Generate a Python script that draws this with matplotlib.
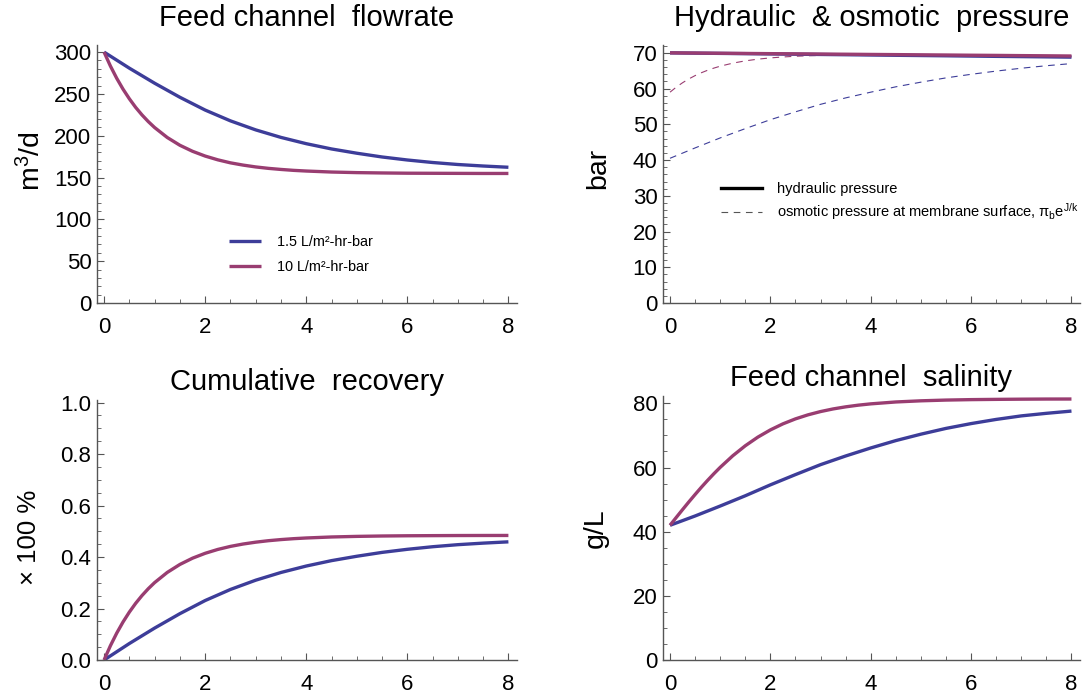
import matplotlib
matplotlib.use("Agg")
import matplotlib.pyplot as plt
from matplotlib.ticker import MultipleLocator, FormatStrFormatter

plt.rcParams['font.family'] = ['Liberation Sans', 'DejaVu Sans']
plt.rcParams['mathtext.fontset'] = 'custom'
plt.rcParams['mathtext.rm'] = 'Liberation Sans'
plt.rcParams['mathtext.it'] = 'Liberation Sans'

# ---------------- data ----------------
labels = ["1.5 L/m\u00b2-hr-bar", "10 L/m\u00b2-hr-bar"]

x_blue = [0, 0.5, 1, 1.5, 2, 2.5, 3, 3.5, 4, 4.5, 5, 5.5, 6, 6.5, 7, 7.5, 8]
x_red = [0, 0.125, 0.25, 0.375, 0.5, 0.625, 0.75, 0.875, 1, 1.25, 1.5, 1.75, 2,
         2.25, 2.5, 2.75, 3, 3.25, 3.5, 3.75, 4, 4.5, 5, 5.5, 6, 6.5, 7, 7.5, 8]

flow_blue = [300, 280.8, 262.8, 246, 230.7, 217.8, 207, 198, 190.5, 184.2, 179.1,
             174.6, 171, 168, 165.6, 163.8, 162.3]
flow_red = [300, 283.4, 268.7, 255.7, 244.2, 233.9, 224.9, 216.9, 209.8, 197.9,
            188.6, 181.4, 175.7, 171.2, 167.6, 164.9, 162.7, 161.0, 159.7, 158.6,
            157.8, 156.6, 155.9, 155.5, 155.2, 155.1, 155.0, 154.9, 154.9]

rec_blue = [0, 0.064, 0.124, 0.180, 0.231, 0.274, 0.310, 0.340, 0.365, 0.386,
            0.403, 0.418, 0.430, 0.440, 0.448, 0.454, 0.459]
rec_red = [0, 0.0553, 0.1043, 0.1477, 0.1861, 0.2202, 0.2503, 0.2770, 0.3007,
           0.3402, 0.3712, 0.3955, 0.4145, 0.4295, 0.4413, 0.4505, 0.4577, 0.4634,
           0.4678, 0.4713, 0.4740, 0.4779, 0.4802, 0.4817, 0.4826, 0.4831, 0.4835,
           0.4837, 0.4838]

sal_blue = [42, 44.9, 48.0, 51.2, 54.6, 57.8, 60.9, 63.6, 66.1, 68.4, 70.4,
            72.2, 73.7, 75.0, 76.1, 76.9, 77.6]
sal_red = [42, 44.46, 46.89, 49.28, 51.60, 53.86, 56.02, 58.09, 60.06, 63.66,
           66.79, 69.48, 71.73, 73.62, 75.17, 76.43, 77.45, 78.27, 78.92, 79.44,
           79.85, 80.44, 80.80, 81.03, 81.17, 81.25, 81.31, 81.35, 81.36]

hyd_blue = [70.0, 69.92, 69.85, 69.78, 69.7, 69.62, 69.55, 69.48, 69.4, 69.32,
            69.25, 69.18, 69.1, 69.02, 68.95, 68.88, 68.8]
hyd_red = [70.0, 69.99, 69.97, 69.96, 69.95, 69.93, 69.92, 69.90, 69.89, 69.86,
           69.84, 69.81, 69.78, 69.75, 69.73, 69.70, 69.67, 69.64, 69.62, 69.59,
           69.56, 69.51, 69.45, 69.40, 69.34, 69.29, 69.23, 69.18, 69.12]
osm_blue = [40.5, 43.4, 46.2, 48.8, 51.3, 53.5, 55.6, 57.4, 59.0, 60.5, 61.8,
            63.0, 64.0, 64.9, 65.7, 66.4, 67.0]
osm_red = [59.0, 60.42, 61.64, 62.71, 63.64, 64.44, 65.14, 65.74, 66.27, 67.12,
           67.76, 68.24, 68.59, 68.85, 69.05, 69.18, 69.28, 69.34, 69.40, 69.42,
           69.43, 69.44, 69.41, 69.38, 69.33, 69.28, 69.22, 69.17, 69.11]

titles = ["Feed channel  flowrate", "Hydraulic  & osmotic  pressure",
          "Cumulative  recovery", "Feed channel  salinity"]
ylabels = ["m$^3$/d", "bar", "\u00d7 100 %", "g/L"]
legend2_labels = ["hydraulic pressure",
                  "osmotic pressure at membrane surface, $\\pi_{\\rm b}{\\rm e}^{\\rm J/k}$"]

BLUE = "#3d3d99"
RED = "#993d71"
SPINE = "#555555"

W, H = 1091, 694
fig = plt.figure(figsize=(W / 100, H / 100), dpi=100)

def mk(left, top, right, bottom):
    return fig.add_axes([left / W, 1 - bottom / H, (right - left) / W, (bottom - top) / H])

ax1 = mk(97, 45, 517, 303)
ax2 = mk(663, 45, 1080, 303)
ax3 = mk(97, 400, 517, 660)
ax4 = mk(663, 396, 1080, 660)
axes = [ax1, ax2, ax3, ax4]

lw = 2.4
ax1.plot(x_blue, flow_blue, color=BLUE, lw=lw, label=labels[0], solid_capstyle='butt')
ax1.plot(x_red, flow_red, color=RED, lw=lw, label=labels[1], solid_capstyle='butt')

ax2.plot(x_blue, osm_blue, color=BLUE, lw=0.8, dashes=(6, 5))
ax2.plot(x_red, osm_red, color=RED, lw=0.8, dashes=(6, 5))
ax2.plot(x_blue, hyd_blue, color=BLUE, lw=lw, solid_capstyle='butt')
ax2.plot(x_red, hyd_red, color=RED, lw=lw, solid_capstyle='butt')

ax3.plot(x_blue, rec_blue, color=BLUE, lw=lw, solid_capstyle='butt')
ax3.plot(x_red, rec_red, color=RED, lw=lw, solid_capstyle='butt')

ax4.plot(x_blue, sal_blue, color=BLUE, lw=lw, solid_capstyle='butt')
ax4.plot(x_red, sal_red, color=RED, lw=lw, solid_capstyle='butt')

ylims = [(0, 308.5), (0, 72.2), (0, 1.01), (0, 82.3)]
ymaj = [50, 10, 0.2, 20]
ymin = [10, 2, 0.05, 5]
title_pads = [13.5, 13.5, 7.5, 7.0]
ylabel_x = [-0.121, -0.124, -0.133, -0.13]
ylabel_y = [0.55, 0.52, 0.47, 0.5]
ylabel_fs = [20.5, 20.5, 18.5, 20.5]

for ax, t, yl, lim, mj, mn, tp, lx, ly, lfs in zip(axes, titles, ylabels, ylims, ymaj,
                                                  ymin, title_pads, ylabel_x, ylabel_y,
                                                  ylabel_fs):
    ax.set_xlim(-0.14, 8.17)
    ax.set_ylim(*lim)
    ax.xaxis.set_major_locator(MultipleLocator(2))
    ax.xaxis.set_minor_locator(MultipleLocator(0.5))
    ax.yaxis.set_major_locator(MultipleLocator(mj))
    ax.yaxis.set_minor_locator(MultipleLocator(mn))
    for s in ['top', 'right']:
        ax.spines[s].set_visible(False)
    for s in ['left', 'bottom']:
        ax.spines[s].set_color(SPINE)
        ax.spines[s].set_linewidth(1.0)
    ax.tick_params(which='major', direction='in', length=5, width=0.8, color=SPINE,
                   labelsize=16)
    ax.tick_params(axis='y', which='major', pad=4)
    ax.tick_params(axis='x', which='major', pad=10)
    ax.tick_params(which='minor', direction='in', length=2.8, width=0.6, color=SPINE)
    ax.set_title(t, fontsize=21, pad=tp)
    ax.set_ylabel(yl, fontsize=lfs)
    ax.yaxis.set_label_coords(lx, ly)

ax3.yaxis.set_major_formatter(FormatStrFormatter('%.1f'))

ax1.legend(loc='upper left', bbox_to_anchor=(0.315, 0.262), frameon=False,
           fontsize=10.4, handlelength=2.2, handletextpad=1.1,
           labelspacing=0.75, borderpad=0, borderaxespad=0)

h1, = ax2.plot([], [], color='black', lw=2.4)
h2, = ax2.plot([], [], color='#555555', lw=0.8, dashes=(6, 5))
ax2.legend([h1, h2], legend2_labels,
           loc='upper left', bbox_to_anchor=(0.14, 0.47), frameon=False,
           fontsize=10.5, handlelength=2.8, handletextpad=1.0,
           labelspacing=0.4, borderpad=0, borderaxespad=0)

fig.savefig("out.png", dpi=100)
